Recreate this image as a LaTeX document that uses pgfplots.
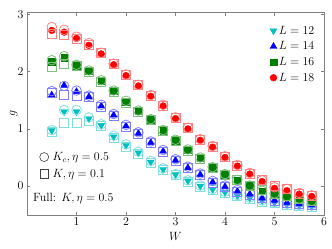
\documentclass[border=0pt]{standalone}
\usepackage{pgfplots}
\usepackage{pgfplotstable}
\pgfplotsset{compat=1.18}
\definecolor{mc}{RGB}{0,191,191}
\definecolor{mb}{RGB}{0,0,255}
\definecolor{mg}{RGB}{0,128,0}
\definecolor{mr}{RGB}{255,0,0}

% columns: W, full (K, eta=0.5), kc (K_c, eta=0.5), k01 (K, eta=0.1)
\pgfplotstableread{
W full kc k01
0.50 0.97 0.98 0.95
0.75 1.30 1.33 1.10
1.00 1.30 1.33 1.10
1.25 1.18 1.20 1.14
1.50 1.06 1.08 1.05
1.75 0.86 0.88 0.85
2.00 0.71 0.73 0.69
2.25 0.58 0.60 0.56
2.50 0.42 0.44 0.40
2.75 0.29 0.31 0.28
3.00 0.20 0.21 0.19
3.25 0.09 0.10 0.08
3.50 0.00 0.01 -0.01
3.75 -0.06 -0.05 -0.07
4.00 -0.11 -0.10 -0.12
4.25 -0.17 -0.16 -0.18
4.50 -0.21 -0.20 -0.22
4.75 -0.26 -0.25 -0.27
5.00 -0.29 -0.28 -0.30
5.25 -0.32 -0.31 -0.33
5.50 -0.34 -0.33 -0.35
5.75 -0.35 -0.34 -0.36
}\dataA
\pgfplotstableread{
W full kc k01
0.50 1.59 1.66 1.62
0.75 1.76 1.75 1.60
1.00 1.65 1.67 1.58
1.25 1.56 1.58 1.55
1.50 1.40 1.42 1.39
1.75 1.24 1.26 1.23
2.00 1.05 1.07 1.04
2.25 0.92 0.94 0.91
2.50 0.76 0.78 0.75
2.75 0.61 0.63 0.60
3.00 0.45 0.47 0.44
3.25 0.32 0.34 0.31
3.50 0.20 0.22 0.19
3.75 0.07 0.09 0.06
4.00 -0.01 0.01 -0.02
4.25 -0.09 -0.07 -0.10
4.50 -0.14 -0.12 -0.15
4.75 -0.21 -0.19 -0.21
5.00 -0.25 -0.23 -0.25
5.25 -0.29 -0.27 -0.29
5.50 -0.31 -0.29 -0.31
5.75 -0.33 -0.31 -0.33
}\dataB
\pgfplotstableread{
W full kc k01
0.50 2.17 2.20 2.09
0.75 2.25 2.27 2.13
1.00 2.11 2.12 2.10
1.25 2.01 2.02 1.99
1.50 1.84 1.85 1.82
1.75 1.66 1.67 1.64
2.00 1.48 1.49 1.46
2.25 1.31 1.32 1.30
2.50 1.16 1.17 1.15
2.75 0.97 0.98 0.96
3.00 0.80 0.81 0.79
3.25 0.63 0.64 0.62
3.50 0.49 0.50 0.48
3.75 0.32 0.33 0.31
4.00 0.20 0.21 0.20
4.25 0.10 0.11 0.10
4.50 0.00 0.01 0.01
4.75 -0.09 -0.08 -0.07
5.00 -0.14 -0.13 -0.13
5.25 -0.19 -0.18 -0.18
5.50 -0.23 -0.22 -0.22
5.75 -0.27 -0.26 -0.26
}\dataC
\pgfplotstableread{
W full kc k01
0.50 2.72 2.78 2.66
0.75 2.69 2.73 2.64
1.00 2.58 2.61 2.57
1.25 2.46 2.50 2.47
1.50 2.31 2.33 2.32
1.75 2.12 2.14 2.13
2.00 1.93 1.95 1.94
2.25 1.75 1.77 1.76
2.50 1.57 1.59 1.58
2.75 1.40 1.42 1.41
3.00 1.18 1.20 1.19
3.25 1.00 1.02 1.01
3.50 0.80 0.82 0.81
3.75 0.68 0.70 0.69
4.00 0.50 0.52 0.51
4.25 0.35 0.37 0.36
4.50 0.21 0.23 0.22
4.75 0.08 0.10 0.10
5.00 -0.04 -0.02 0.00
5.25 -0.08 -0.05 -0.05
5.50 -0.14 -0.12 -0.13
5.75 -0.18 -0.16 -0.18
}\dataD

\pgfplotsset{
  opencirc/.style={only marks, mark=o, mark size=4.8bp, mark options={draw=#1!50, line width=0.8pt}, forget plot},
  opensq/.style={only marks, mark=square, mark size=4.5bp, mark options={draw=#1!50, line width=0.8pt}, forget plot},
}

\begin{document}
\begin{tikzpicture}[font=\fontsize{12}{14}\selectfont]
\begin{axis}[
  name=main,
  scale only axis, width=297bp, height=202bp,
  xmin=0, xmax=6, ymin=-0.5, ymax=3.03,
  xtick={1,2,3,4,5,6}, ytick={0,1,2,3},
  axis line style={gray}, tick style={gray, thin},
  major tick length=3bp,
  xlabel={$W$}, ylabel={$g$},
  ylabel style={at={(axis description cs:-0.045,0.5)}, anchor=center},
  legend style={at={(axis description cs:0.985,0.955)}, anchor=north east,
    draw=none, fill=none, row sep=2bp},
  legend cell align=left,
]
\addplot[only marks, mark=triangle*, mark size=4bp, mark options={rotate=180, fill=mc, draw=mc}] table[x=W, y=full] {\dataA};
\addlegendentry{$L=12$}
\addplot[opencirc=mc] table[x=W, y=kc] {\dataA};
\addplot[opensq=mc] table[x=W, y=k01] {\dataA};

\addplot[only marks, mark=triangle*, mark size=4bp, mark options={fill=mb, draw=mb}] table[x=W, y=full] {\dataB};
\addlegendentry{$L=14$}
\addplot[opencirc=mb] table[x=W, y=kc] {\dataB};
\addplot[opensq=mb] table[x=W, y=k01] {\dataB};

\addplot[only marks, mark=square*, mark size=3.4bp, mark options={fill=mg, draw=mg}] table[x=W, y=full] {\dataC};
\addlegendentry{$L=16$}
\addplot[opencirc=mg] table[x=W, y=kc] {\dataC};
\addplot[opensq=mg] table[x=W, y=k01] {\dataC};

\addplot[only marks, mark=*, mark size=3.4bp, mark options={fill=mr, draw=mr}] table[x=W, y=full] {\dataD};
\addlegendentry{$L=18$}
\addplot[opencirc=mr] table[x=W, y=kc] {\dataD};
\addplot[opensq=mr] table[x=W, y=k01] {\dataD};

\node[anchor=west, inner sep=0pt] at (axis cs:0.12,-0.215) {Full: $K,\eta=0.5$};
\end{axis}
\begin{axis}[
  scale only axis, width=297bp, height=202bp,
  xmin=0, xmax=6, ymin=-0.5, ymax=3.03,
  hide axis,
  legend style={at={(axis description cs:0.032,0.33)}, anchor=north west,
    draw=none, fill=none, row sep=3bp},
  legend cell align=left,
]
\addlegendimage{only marks, mark=o, mark size=4.5bp, mark options={draw=black!75, line width=0.6pt}}
\addlegendentry{\hspace{2bp}$K_c,\eta=0.5$}
\addlegendimage{only marks, mark=square, mark size=4.3bp, mark options={draw=black!75, line width=0.6pt}}
\addlegendentry{\hspace{2bp}$K,\eta=0.1$}
\end{axis}
\path (main.north east) ++(8bp,12.7bp);
\path (main.south west) ++(-27bp,-34bp);
\end{tikzpicture}
\end{document}
